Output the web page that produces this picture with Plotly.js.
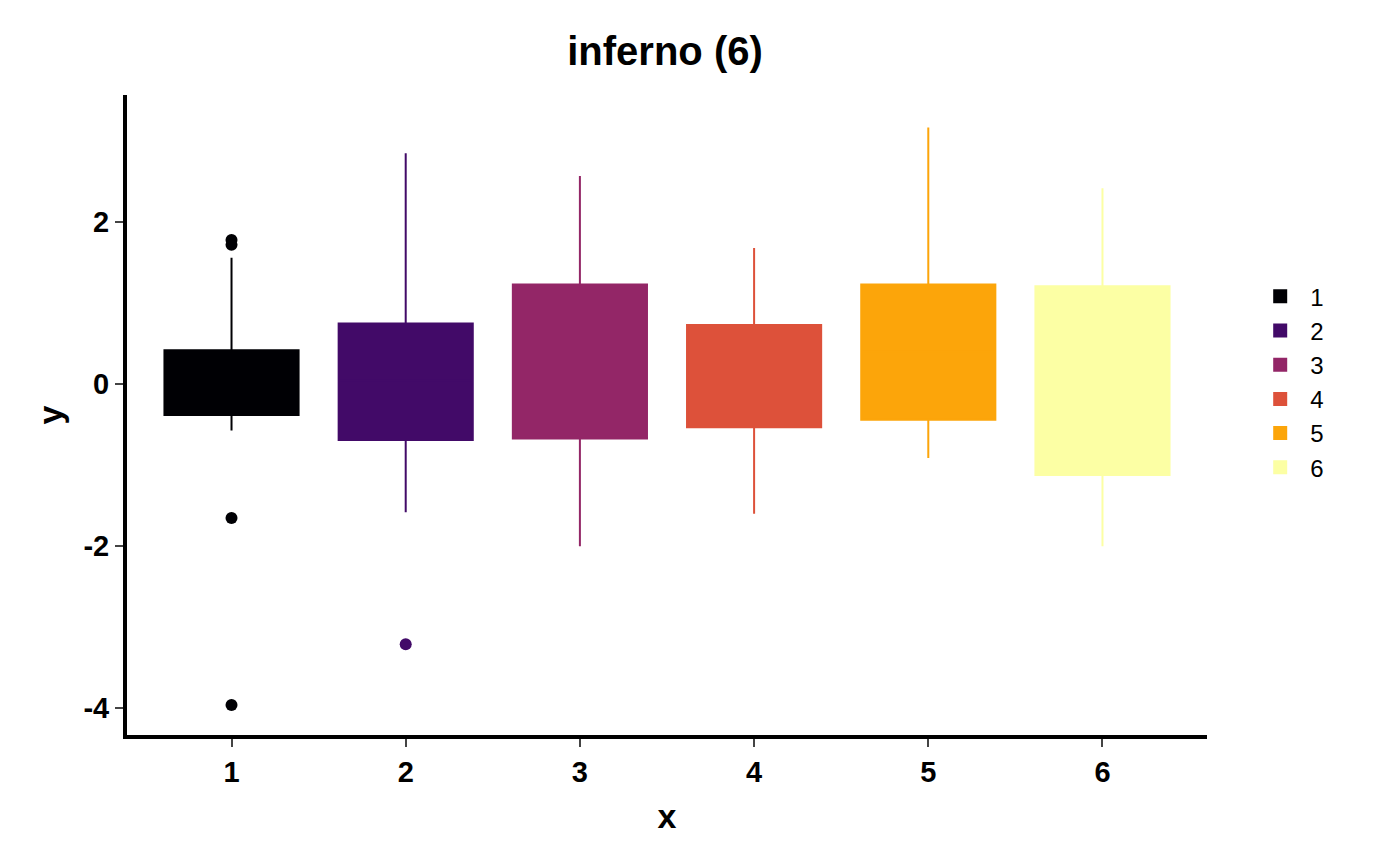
<!DOCTYPE html>
<html>
<head>
<script src="https://cdn.plot.ly/plotly-3.0.1.min.js"></script>
<style>body{margin:0;background:#fff}</style>
</head>
<body>
<div id="chart" style="width:1400px;height:865px"></div>
<script>
// groups and box statistics
var groups = ['1', '2', '3', '4', '5', '6'];
var colors = ['#000004', '#420A68', '#932667', '#DD513A', '#FCA50A', '#FCFFA4'];
var q1 = [-0.38, -0.69, -0.67, -0.53, -0.44, -1.12];
var med = [0.02, 0.05, 0.3, 0.1, 0.4, 0.05];
var q3 = [0.42, 0.75, 1.23, 0.73, 1.23, 1.21];
var lowW = [-0.57, -1.58, -2.0, -1.6, -0.91, -2.0];
var highW = [1.56, 2.85, 2.57, 1.68, 3.17, 2.42];
var outX = [1, 1, 1, 1, 2];
var outY = [1.78, 1.72, -1.65, -3.96, -3.21];
var outCol = ['#000004', '#000004', '#000004', '#000004', '#420A68'];

var data = [];
for (var i = 0; i < groups.length; i++) {
    data.push({
        type: 'box',
        name: groups[i],
        x: [i + 1],
        q1: [q1[i]], median: [med[i]], q3: [q3[i]],
        lowerfence: [lowW[i]], upperfence: [highW[i]],
        fillcolor: colors[i],
        line: {color: colors[i], width: 2},
        whiskerwidth: 0,
        width: 0.77,
        boxpoints: false
    });
}
data.push({
    type: 'scatter', mode: 'markers', x: outX, y: outY,
    marker: {color: outCol, size: 12}, showlegend: false, hoverinfo: 'y'
});

var font = {family: 'Liberation Sans, Arial, sans-serif', color: '#000'};
var layout = {
    width: 1400, height: 865,
    margin: {l: 127, r: 193, t: 95, b: 130},
    paper_bgcolor: '#fff', plot_bgcolor: '#fff',
    font: font,
    title: {text: '<b>inferno (6)</b>', x: 0.475, y: 0.957, font: {size: 40, family: font.family}},
    showlegend: true,
    legend: {x: 1.04, y: 0.72, font: {size: 24}, tracegroupgap: 16, itemwidth: 50},
    xaxis: {
        range: [0.4, 6.6], tickvals: [1, 2, 3, 4, 5, 6], ticktext: groups.map(function (g) { return '<b>' + g + '</b>'; }),
        showgrid: false, zeroline: false, showline: true, linewidth: 4, linecolor: '#000',
        ticks: 'outside', ticklen: 8, tickwidth: 2, tickfont: {size: 29},
        title: {text: '<b>x</b>', font: {size: 34}, standoff: 18}
    },
    yaxis: {
        range: [-4.33, 3.57], tickvals: [-4, -2, 0, 2], ticktext: ['<b>-4</b>', '<b>-2</b>', '<b>0</b>', '<b>2</b>'],
        showgrid: false, zeroline: false, showline: true, linewidth: 4, linecolor: '#000',
        ticks: 'outside', ticklen: 8, tickwidth: 2, tickfont: {size: 29},
        title: {text: '<b>y</b>', font: {size: 34}, standoff: 12}
    }
};
Plotly.newPlot('chart', data, layout, {displayModeBar: false});
</script>
</body>
</html>
